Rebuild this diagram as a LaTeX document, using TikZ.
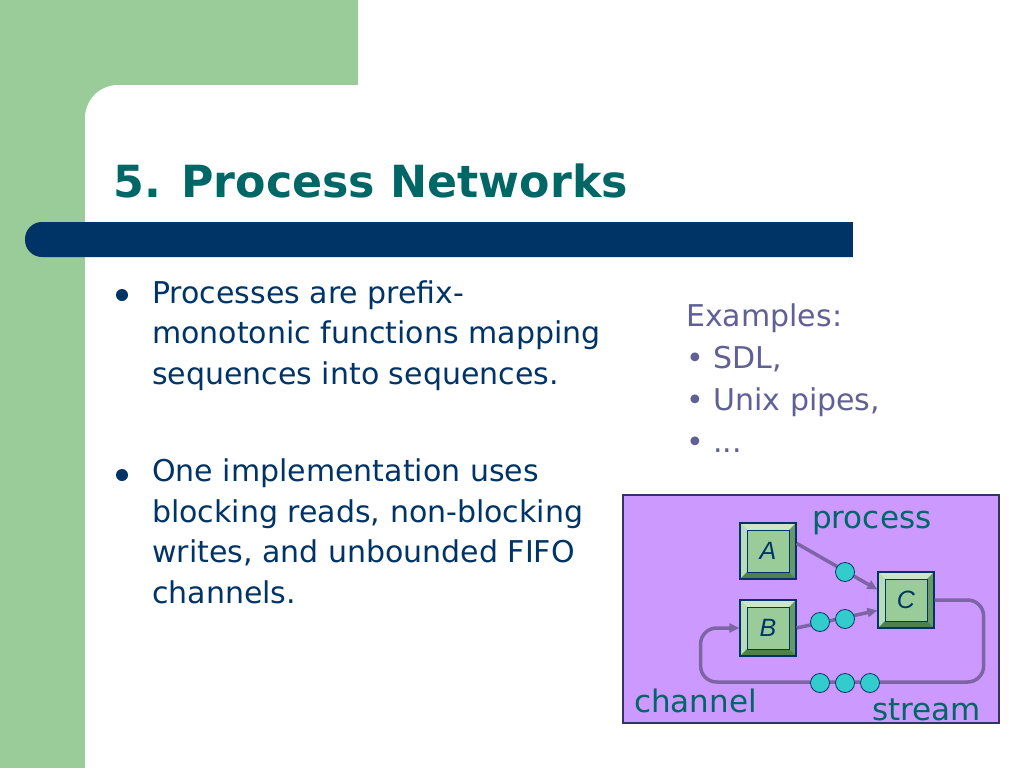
\documentclass[tikz,border=0pt]{standalone}
\usepackage{fontspec}
\setmainfont{DejaVu Sans}
\newfontfamily\boxfont{Liberation Sans}
\usetikzlibrary{positioning, arrows.meta}

\definecolor{slidegreen}{RGB}{153,204,153}
\definecolor{titleteal}{RGB}{0,102,102}
\definecolor{navy}{RGB}{0,51,102}
\definecolor{slate}{RGB}{96,96,150}
\definecolor{panel}{RGB}{204,153,255}
\definecolor{panelline}{RGB}{51,51,102}
\definecolor{procface}{RGB}{153,204,153}
\definecolor{bevtop}{RGB}{204,230,204}
\definecolor{bevleft}{RGB}{184,220,184}
\definecolor{bevright}{RGB}{102,153,102}
\definecolor{bevbot}{RGB}{80,128,80}
\definecolor{flowcol}{RGB}{125,100,165}
\definecolor{tokcol}{RGB}{51,204,204}

\newcommand{\ppb}[1]{(path picture bounding box.#1)}
\newcommand{\ppi}[3]{([shift={(#1,#2)}]path picture bounding box.#3)}

\begin{document}
\begin{tikzpicture}[x=1pt,y=-1pt,
  body/.style={text=navy,align=left,inner sep=0pt,anchor=base west,font=\fontsize{30}{40.5}\selectfont},
  extext/.style={text=slate,align=left,inner sep=0pt,anchor=base west,font=\fontsize{30}{42}\selectfont},
  lbl/.style={text=titleteal,inner sep=0pt,anchor=base west,font=\fontsize{31}{31}\selectfont},
  dot/.style={circle,fill=navy,minimum size=12pt,inner sep=0pt},
  tok/.style={circle,draw=navy,fill=tokcol,line width=0.8pt,minimum size=19pt,inner sep=0pt},
  flow/.style={draw=flowcol,line width=3.5pt,-{Triangle[length=10pt,width=9pt]}},
  proc/.style={rectangle,draw=navy,line width=1.2pt,fill=procface,minimum size=56pt,inner sep=0pt,
    text=navy,font=\boxfont\itshape\fontsize{25}{25}\selectfont,
    path picture={
      \fill[bevtop] \ppb{north west} -- \ppb{north east} -- \ppi{-7pt}{-7pt}{north east} -- \ppi{7pt}{-7pt}{north west} -- cycle;
      \fill[bevleft] \ppb{north west} -- \ppi{7pt}{-7pt}{north west} -- \ppi{7pt}{7pt}{south west} -- \ppb{south west} -- cycle;
      \fill[bevright] \ppb{north east} -- \ppb{south east} -- \ppi{-7pt}{7pt}{south east} -- \ppi{-7pt}{-7pt}{north east} -- cycle;
      \fill[bevbot] \ppb{south west} -- \ppi{7pt}{7pt}{south west} -- \ppi{-7pt}{7pt}{south east} -- \ppb{south east} -- cycle;
      \draw[navy,line width=0.6pt] \ppi{7pt}{-7pt}{north west} rectangle \ppi{-7pt}{7pt}{south east};
    }}]
\useasboundingbox (0,0) rectangle (1024,768);
\clip (0,0) rectangle (1024,768);

% slide background
\fill[white] (0,0) rectangle (1024,768);
\fill[slidegreen] (0,0) rectangle (85,768);
\fill[slidegreen] (0,0) rectangle (358,130);
\fill[white,rounded corners=33pt] (85,85) rectangle (1100,850);

% title and bar
\node[inner sep=0pt,anchor=base west,text=titleteal,font=\bfseries\fontsize{44.3}{45}\selectfont] (title) at (113,197) {5. Process Networks};
\fill[navy,rounded corners=17pt] (25,222) rectangle (900,257);
\fill[white] (853,220) rectangle (1024,260);

% bullets (base = last line)
\node[dot] (b1) at (122,295) {};
\node[body] (p1) at (152,384) {Processes are prefix-\\monotonic functions mapping\\sequences into sequences.};
\node[dot] (b2) at (122,475) {};
\node[body] (p2) at (152,603) {One implementation uses\\blocking reads, non-blocking\\writes, and unbounded FIFO\\channels.};

% examples
\node[extext] (ex) at (686,452) {Examples:\\• SDL,\\• Unix pipes,\\• ...};

% network panel
\draw[panelline,fill=panel,line width=1.2pt] (623,495) rectangle (999,723);

\node[proc] (A) at (768,551) {A};
\node[proc] (B) at (768,628) {B};
\node[proc] (C) at (906,600) {C};

\path[flow] (A.15) -- (C.160);
\path[flow] (B.east) -- (C.200);
\path[flow,rounded corners=16pt] (C.east) -- ++(49,0) -- ++(0,82) -- ++(-283,0) -- ++(0,-54) -- (B.west);

% tokens in the channels
\node[tok] (t1) at (845,572) {};
\node[tok] (t2) at (820,622) {};
\node[tok] (t3) at (845,619) {};
\node[tok] (t4) at (820,683) {};
\node[tok] (t5) at (845,683) {};
\node[tok] (t6) at (870,683) {};

\node[lbl] (lproc) at (812,528) {process};
\node[lbl] (lchan) at (634,712) {channel};
\node[lbl] (lstream) at (872,720) {stream};
\end{tikzpicture}
\end{document}
